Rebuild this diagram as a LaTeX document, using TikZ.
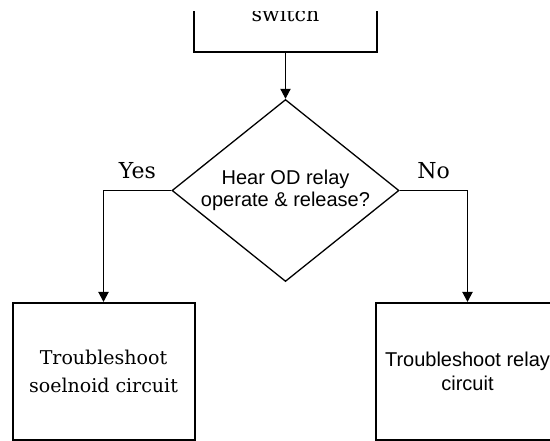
\documentclass[tikz,border=0pt]{standalone}
\usepackage{fontspec}
\setmainfont{DejaVu Serif}
\newfontfamily\arialfont{Liberation Sans}
\usetikzlibrary{arrows.meta, shapes.geometric}

\begin{document}
\begin{tikzpicture}[x=1pt, y=-1pt,
  box/.style={rectangle, draw=black, line width=2pt, minimum width=182pt, minimum height=137pt, align=center, inner sep=0pt},
  decision/.style={diamond, draw=black, line width=1.3pt, shape aspect=1.25, minimum width=227pt, minimum height=182pt, inner sep=0pt, align=center, font=\arialfont\fontsize{20}{22}\selectfont},
  arrow/.style={-{Triangle[length=10pt, width=10pt]}, line width=1.9pt},
  answer/.style={font=\fontsize{22}{24}\selectfont, inner sep=0pt}
]
\useasboundingbox (0,0) rectangle (550,441);
\clip (0,12) rectangle (550,441);

\node[box, minimum width=183pt, minimum height=76pt, font=\fontsize{20.5}{24}\selectfont] (switch) at (285.5,14) {switch};
\node[decision] (relay) at (285.5,190.5) {Hear OD relay\\operate \& release?};
\node[box, font=\fontsize{19}{28}\selectfont] (solenoid) at (103.5,371.5) {Troubleshoot\\soelnoid circuit};
\node[box, minimum width=183pt, font=\arialfont\fontsize{20}{24}\selectfont] (relaycirc) at (467.5,371.5) {Troubleshoot relay\\circuit};

\draw[arrow] (switch.south) -- (relay.north);
\draw[arrow] (relay.west) -| node[answer, pos=0.25, above=11pt] {Yes} (solenoid.north);
\draw[arrow] (relay.east) -| node[answer, pos=0.25, above=11pt] {No} (relaycirc.north);
\end{tikzpicture}
\end{document}
